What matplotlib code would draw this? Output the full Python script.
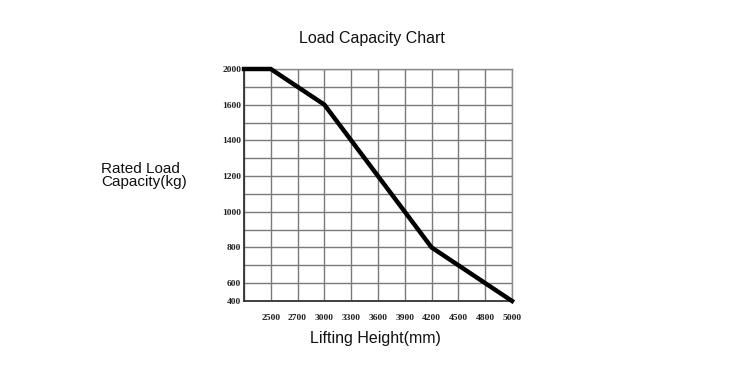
import numpy as np
import matplotlib
matplotlib.use("Agg")
import matplotlib.pyplot as plt

# lifting height categories (first column has no label)
heights = ['', '2500', '2700', '3000', '3300', '3600', '3900', '4200', '4500', '4800', '5000']
# rated load capacity (kg) at each height
capacity = [2000, 2000, 1800, 1600, 1400, 1200, 1000, 800, 700, 600, 400]

# y axis of the chart is not linear: labelled values and their grid rows
ytick_vals = [400, 600, 800, 1000, 1200, 1400, 1600, 2000]
ytick_rows = [0, 1, 3, 5, 7, 9, 11, 13]
minor_vals = [700, 900, 1100, 1300, 1500, 1800]


def fwd(v):
    return np.interp(v, ytick_vals, ytick_rows)


def inv(r):
    return np.interp(r, ytick_rows, ytick_vals)


fig = plt.figure(figsize=(7.5, 3.83), dpi=100)
ax = fig.add_axes([244 / 750, 1 - 301 / 383, 268 / 750, 232 / 383])
ax.set_yscale('function', functions=(fwd, inv))

xs = np.arange(len(heights))
ax.plot(xs, capacity, color='black', lw=3.2, solid_joinstyle='miter', zorder=5, clip_on=False)

ax.set_xlim(0, len(heights) - 1)
ax.set_ylim(400, 2000)

tick_font = dict(family='Liberation Serif', size=6.8, weight='bold')
ax.set_xticks(xs)
ax.set_xticklabels(heights, fontdict=tick_font, color='#222222')
ax.set_yticks(ytick_vals)
ax.set_yticklabels([str(v) for v in ytick_vals], fontdict=tick_font, color='#222222')
ax.set_yticks(minor_vals, minor=True)
ax.tick_params(which='both', length=0)
ax.tick_params(axis='x', pad=9)
ax.tick_params(axis='y', pad=2)

ax.grid(True, which='both', color='#7a7a7a', lw=1.0)
for s in ['top', 'right']:
    ax.spines[s].set_color('#8a8a8a')
    ax.spines[s].set_linewidth(1.0)
for s in ['left', 'bottom']:
    ax.spines[s].set_color('#333333')
    ax.spines[s].set_linewidth(1.3)

sans = 'Liberation Sans'
fig.text(372 / 750, 1 - 38 / 383, 'Load Capacity Chart', ha='center', va='center',
         fontsize=11.5, family=sans, color='#111111')
fig.text(101 / 750, 1 - 175.5 / 383, 'Rated Load\nCapacity(kg)', ha='left', va='center',
         fontsize=11, family=sans, color='#111111', linespacing=0.95)
fig.text(375 / 750, 1 - 338 / 383, 'Lifting Height(mm)', ha='center', va='center',
         fontsize=11.5, family=sans, color='#111111')

fig.savefig('out.png', dpi=100)
